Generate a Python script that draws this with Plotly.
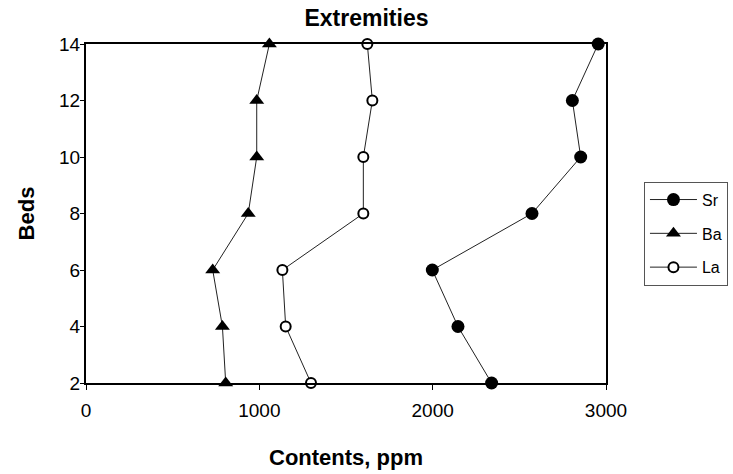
import plotly.graph_objects as go

# Bed numbers (vertical axis) and element contents in ppm
beds = [2, 4, 6, 8, 10, 12, 14]
sr_ppm = [2340, 2146, 1998, 2573, 2854, 2806, 2955]
ba_ppm = [806, 787, 731, 936, 985, 985, 1058]
la_ppm = [1298, 1152, 1133, 1600, 1600, 1652, 1623]

FONT = "Liberation Sans, Arial, sans-serif"

fig = go.Figure()

fig.add_trace(go.Scatter(
    x=sr_ppm, y=beds, name="Sr", mode="lines+markers", legendgroup="sr",
    line=dict(color="#222", width=1),
    marker=dict(symbol="circle", size=13, color="black"),
    cliponaxis=False,
))
fig.add_trace(go.Scatter(
    x=ba_ppm, y=beds, name="Ba", mode="lines+markers", legendgroup="ba",
    line=dict(color="#222", width=1),
    marker=dict(symbol="triangle-up", size=13, color="black"),
    cliponaxis=False,
))
fig.add_trace(go.Scatter(
    x=la_ppm, y=beds, name="La", mode="lines+markers", legendgroup="la",
    line=dict(color="#222", width=1),
    marker=dict(symbol="circle", size=10, color="white",
                line=dict(color="black", width=2)),
    cliponaxis=False,
))

fig.update_layout(
    width=733, height=474,
    margin=dict(l=86, r=127, t=44, b=91, autoexpand=False),
    paper_bgcolor="white", plot_bgcolor="white",
    font=dict(family=FONT, color="black"),
    title=dict(text="<b>Extremities</b>", x=0.5, xref="container", xanchor="center",
               y=1 - 18 / 474, yref="container", yanchor="middle",
               font=dict(size=23, family=FONT, color="black")),
    legend=dict(x=1.073, y=0.594, xanchor="left", yanchor="top",
                bordercolor="#555", borderwidth=1, bgcolor="white",
                itemwidth=47,
                font=dict(size=16, family=FONT, color="black"),
                traceorder="grouped", tracegroupgap=10),
    showlegend=True,
)

fig.update_xaxes(
    range=[0, 3000], dtick=1000, tick0=0,
    showgrid=False, zeroline=False, automargin=False,
    showline=True, linecolor="black", linewidth=2, mirror=True,
    ticks="outside", ticklen=5, tickcolor="black", tickwidth=1,
    ticklabelstandoff=4,
    tickfont=dict(size=19, family=FONT, color="black"),
    title=dict(text="<b>Contents, ppm</b>", standoff=30,
               font=dict(size=22, family=FONT, color="black")),
)
fig.update_yaxes(
    range=[2, 14], dtick=2, tick0=2,
    showgrid=False, zeroline=False, automargin=False,
    showline=True, linecolor="black", linewidth=2, mirror=True,
    ticks="outside", ticklen=4, tickcolor="black", tickwidth=1,
    ticklabelstandoff=-4,
    tickfont=dict(size=19, family=FONT, color="black"),
    title=dict(text="<b>Beds</b>", standoff=18,
               font=dict(size=22, family=FONT, color="black")),
)

fig.write_html("out.html")
